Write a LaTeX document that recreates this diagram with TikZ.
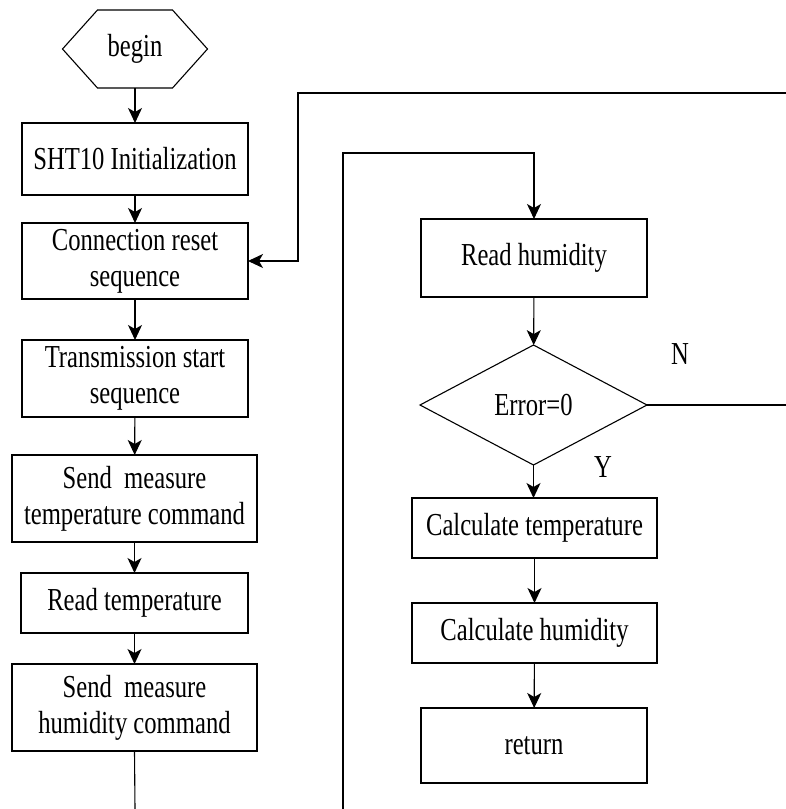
\documentclass[tikz,border=0pt]{standalone}
\usepackage{fontspec}
\setmainfont{Liberation Serif}[FakeStretch=0.77]
\usetikzlibrary{arrows.meta,shapes.geometric}

\tikzset{
  box/.style={draw, line width=1.1pt, inner sep=0pt, outer sep=0pt,
    align=center, font=\fontsize{32}{36}\selectfont},
  decision/.style={draw, line width=1.1pt, diamond, inner sep=0pt, outer sep=0pt,
    font=\fontsize{32}{36}\selectfont},
  hexlabel/.style={inner sep=0pt, outer sep=0pt, font=\fontsize{32}{36}\selectfont},
  flow/.style={line width=1.1pt, -{Stealth[length=15pt,width=14pt,inset=4pt]}},
  wire/.style={line width=1.1pt},
  tag/.style={font=\fontsize{32}{36}\selectfont, inner sep=0pt},
}

\begin{document}
\begin{tikzpicture}[x=1pt, y=-1pt]
  \useasboundingbox (0,0) rectangle (786,809);

  % left column: start and measurement steps
  \node[hexlabel, minimum width=145pt, minimum height=78pt] (begin) at (135,49) {begin};
  \draw[wire] ([xshift=35pt]begin.north west) -- ([xshift=-35pt]begin.north east)
    -- (begin.east) -- ([xshift=-35pt]begin.south east)
    -- ([xshift=35pt]begin.south west) -- (begin.west) -- cycle;

  \node[box, minimum width=226pt, minimum height=72pt] (init) at (135,159) {SHT10 Initialization};
  \node[box, minimum width=226pt, minimum height=76pt] (reset) at (135,261) {Connection reset\\sequence};
  \node[box, minimum width=226pt, minimum height=77pt] (trans) at (135,378.5) {Transmission start\\sequence};
  \node[box, minimum width=245pt, minimum height=87pt] (sendT) at (134.5,498.5) {Send\ \ measure\\temperature command};
  \node[box, minimum width=227pt, minimum height=60pt] (readT) at (134.5,603) {Read temperature};
  \node[box, minimum width=245pt, minimum height=87pt] (sendH) at (134.5,707.5) {Send\ \ measure\\humidity command};

  % right column: humidity reading and evaluation
  \node[box, minimum width=226pt, minimum height=78pt] (readH) at (534,258) {Read humidity};
  \node[decision, minimum width=227pt, minimum height=120pt, aspect=1.9] (err) at (533.5,405) {Error=0};
  \node[box, minimum width=245pt, minimum height=60pt] (calcT) at (534.5,528) {Calculate temperature};
  \node[box, minimum width=245pt, minimum height=60pt] (calcH) at (534.5,633) {Calculate humidity};
  \node[box, minimum width=226pt, minimum height=75pt] (ret) at (534,745.5) {return};

  \node[tag] (nlab) at (680,354) {N};
  \node[tag] (ylab) at (603,467) {Y};

  % loop ends running off the sheet
  \coordinate (outerIn) at (786,93);
  \coordinate (outerTurn) at (298,93);
  \coordinate (innerIn) at (343,809);
  \coordinate (innerTurn) at (343,153);
  \coordinate (leftOut) at (135,809);
  \coordinate (noOut) at (786,405);

  % connectors
  \draw[flow] (begin) -- (init);
  \draw[flow] (init) -- (reset);
  \draw[flow] (reset) -- (trans);
  \draw[flow] (trans) -- (sendT);
  \draw[flow] (sendT.south) -- (sendT.south |- readT.north);
  \draw[flow] (readT.south) -- (readT.south |- sendH.north);
  \draw[wire] (sendH.south) -- (leftOut);

  \draw[flow] (outerIn) -- (outerTurn) |- (reset.east);
  \draw[flow] (innerIn) -- (innerTurn) -| (readH.north);

  \draw[flow] (readH) -- (err);
  \draw[wire] (err.east) -- (noOut);
  \draw[flow] (err.south) -- (err.south |- calcT.north);
  \draw[flow] (calcT) -- (calcH);
  \draw[flow] (calcH) -- (ret);
\end{tikzpicture}
\end{document}
